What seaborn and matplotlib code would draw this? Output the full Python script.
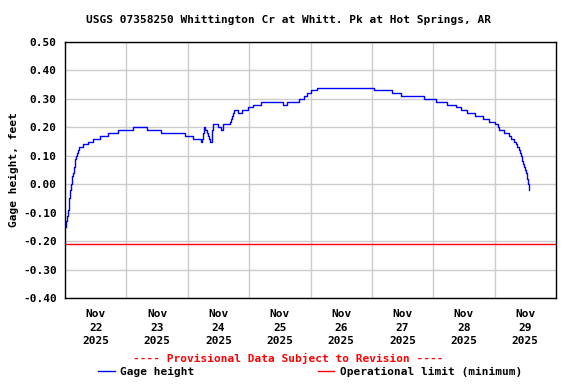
import matplotlib
matplotlib.use("Agg")
import matplotlib.pyplot as plt
from matplotlib.lines import Line2D
import seaborn as sns
import pandas as pd

# ---- data ----
title = "USGS 07358250 Whittington Cr at Whitt. Pk at Hot Springs, AR"
start = "2025-11-22 00:00"
# days since start, gage height (ft) -- stepwise record
day_offsets = [0.011, 0.022, 0.033, 0.049, 0.066, 0.087, 0.104, 0.120, 0.137, 0.153,
               0.164, 0.175, 0.191, 0.208, 0.230, 0.295, 0.372, 0.459, 0.574, 0.705,
               0.869, 1.115, 1.328, 1.557, 1.951, 2.082, 2.208, 2.230, 2.251, 2.268,
               2.284, 2.306, 2.322, 2.339, 2.361, 2.399, 2.415, 2.492, 2.536, 2.574,
               2.689, 2.705, 2.721, 2.738, 2.754, 2.820, 2.891, 2.989, 3.071, 3.197,
               3.552, 3.617, 3.820, 3.896, 3.951, 4.016, 4.104, 5.027, 5.328, 5.481,
               5.852, 6.049, 6.230, 6.372, 6.454, 6.552, 6.678, 6.803, 6.907, 7.000,
               7.055, 7.066, 7.153, 7.235, 7.273, 7.311, 7.344, 7.372, 7.393, 7.415,
               7.437, 7.448, 7.464, 7.481, 7.497, 7.514, 7.525, 7.541, 7.557]
gage_height = [-0.15, -0.13, -0.11, -0.09, -0.05, -0.02, 0.00, 0.03, 0.04, 0.06,
               0.09, 0.10, 0.11, 0.12, 0.13, 0.14, 0.15, 0.16, 0.17, 0.18,
               0.19, 0.20, 0.19, 0.18, 0.17, 0.16, 0.15, 0.16, 0.18, 0.20,
               0.19, 0.18, 0.17, 0.16, 0.15, 0.19, 0.21, 0.20, 0.19, 0.21,
               0.22, 0.23, 0.24, 0.25, 0.26, 0.25, 0.26, 0.27, 0.28, 0.29,
               0.28, 0.29, 0.30, 0.31, 0.32, 0.33, 0.34, 0.33, 0.32, 0.31,
               0.30, 0.29, 0.28, 0.27, 0.26, 0.25, 0.24, 0.23, 0.22, 0.21,
               0.20, 0.19, 0.18, 0.17, 0.16, 0.15, 0.14, 0.13, 0.12, 0.11,
               0.10, 0.08, 0.07, 0.06, 0.05, 0.04, 0.02, 0.00, -0.02]
operational_limit = -0.21
y_ticks = [0.50, 0.40, 0.30, 0.20, 0.10, 0.00, -0.10, -0.20, -0.30, -0.40]
x_days = ["2025-11-22", "2025-11-23", "2025-11-24", "2025-11-25",
          "2025-11-26", "2025-11-27", "2025-11-28", "2025-11-29", "2025-11-30"]
y_label = "Gage height, feet"
note = "---- Provisional Data Subject to Revision ----"
legend_labels = ["Gage height", "Operational limit (minimum)"]

# ---- build frame ----
t0 = pd.Timestamp(start)
df = pd.DataFrame({
    "time": [t0 + pd.Timedelta(days=d) for d in day_offsets],
    "height": gage_height,
})

FONT = ["DejaVu Sans Mono"]
plt.rcParams["font.family"] = FONT
plt.rcParams["font.weight"] = "bold"

fig = plt.figure(figsize=(5.76, 3.84), dpi=100)
ax = fig.add_axes([65/576, 1-298/384, (556-65)/576, (298-42)/384])

sns.lineplot(data=df, x="time", y="height", ax=ax, color="#0000ff",
             linewidth=1.0, drawstyle="steps-post", estimator=None, sort=False)
ax.axhline(operational_limit, color="#ff0000", linewidth=1.0, zorder=3)

days = pd.to_datetime(x_days)
ax.set_xlim(days[0], days[-1])
ax.set_ylim(-0.40, 0.50)
ax.set_yticks(y_ticks)
ax.set_yticklabels([f"{v:.2f}" for v in y_ticks])

ax.set_xticks(days[1:-1])
ax.xaxis.set_major_formatter(plt.NullFormatter())
noons = days[:-1] + pd.Timedelta(hours=12)
ax.set_xticks(noons, minor=True)
ax.set_xticklabels([f"{d:%b}\n{d.day}\n{d:%Y}" for d in days[:-1]], minor=True,
                   fontsize=8, fontweight="bold", linespacing=1.45)
ax.tick_params(axis="x", which="both", length=0, pad=8)
ax.tick_params(axis="y", length=0, pad=6, labelsize=8)
for lab in ax.get_yticklabels():
    lab.set_fontweight("bold")

ax.grid(True, which="major", color="#cccccc", linewidth=1.0)
ax.set_axisbelow(True)
for s in ax.spines.values():
    s.set_color("black")
    s.set_linewidth(1.0)

ax.set_xlabel("")
ax.set_ylabel(y_label, fontsize=8, fontweight="bold", labelpad=3)

fig.text(0.5, 1-20/384, title, ha="center", va="center", fontsize=8, fontweight="bold")
fig.text(0.5, 1-358/384, note, ha="center", va="center", fontsize=8,
         fontweight="bold", color="#ff0000")

handles = [Line2D([], [], color="#0000ff", linewidth=1.0),
           Line2D([], [], color="#ff0000", linewidth=1.0)]
fig.legend(handles, legend_labels, loc="center", bbox_to_anchor=(310/576, 1-372/384),
           ncol=2, frameon=False, handlelength=1.5, handletextpad=0.5,
           columnspacing=11.1, borderpad=0, prop={"weight": "bold", "size": 8})

fig.savefig("out.png", dpi=100)
